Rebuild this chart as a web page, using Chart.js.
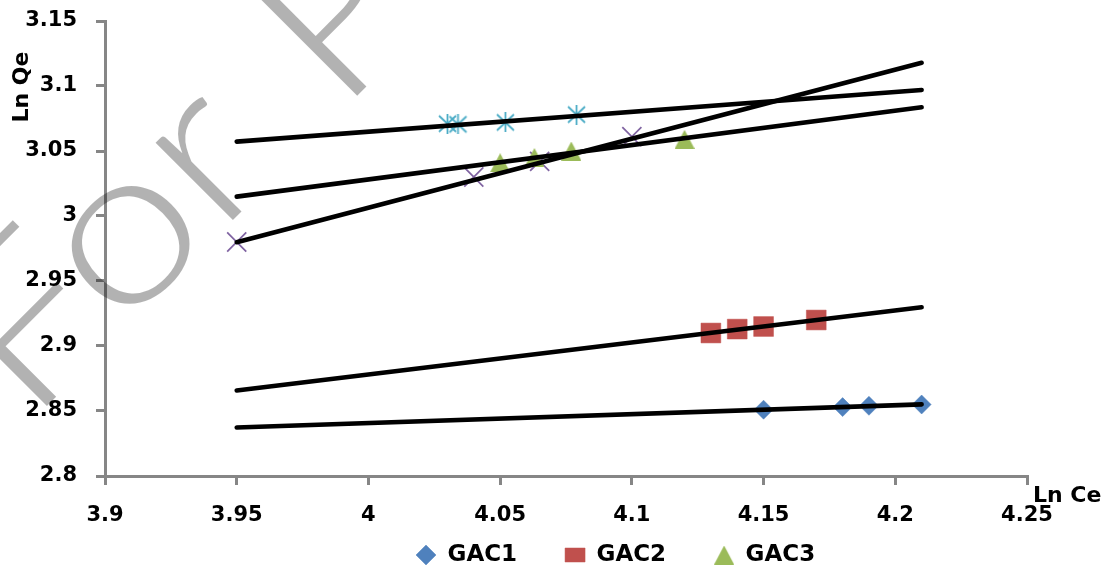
<!DOCTYPE html>
<html>
<head>
<meta charset="utf-8">
<title>Ln Qe vs Ln Ce</title>
<script src="https://cdn.jsdelivr.net/npm/chart.js@4"></script>
<style>
  html, body { margin: 0; padding: 0; background: #ffffff; }
  #wrap { position: relative; width: 1110px; height: 569px; }
</style>
</head>
<body>
<div id="wrap"><canvas id="chart"></canvas></div>
<script>
// Freundlich plots: ln Qe against ln Ce
const gac1Ce = [4.15, 4.18, 4.19, 4.21];
const gac1Qe = [2.851, 2.853, 2.854, 2.855];
const gac2Ce = [4.13, 4.14, 4.15, 4.17];
const gac2Qe = [2.910, 2.913, 2.915, 2.920];
const gac3Ce = [4.05, 4.063, 4.077, 4.12];
const gac3Qe = [3.041, 3.045, 3.050, 3.059];
const set4Ce = [3.95, 4.04, 4.065, 4.10];
const set4Qe = [2.980, 3.030, 3.042, 3.061];
const set5Ce = [4.030, 4.034, 4.052, 4.079];
const set5Qe = [3.071, 3.0705, 3.072, 3.078];

// linear trend lines, drawn between these ln Ce limits
const fitCe = [3.95, 4.21];
const fit1Qe = [2.8373, 2.8551];
const fit2Qe = [2.8658, 2.9298];
const fit3Qe = [3.0149, 3.0836];
const fit4Qe = [2.9798, 3.1179];
const fit5Qe = [3.0572, 3.0969];

const xTickValues = [3.9, 3.95, 4, 4.05, 4.1, 4.15, 4.2, 4.25];
const xTickLabels = ['3.9', '3.95', '4', '4.05', '4.1', '4.15', '4.2', '4.25'];
const yTickValues = [2.8, 2.85, 2.9, 2.95, 3, 3.05, 3.1, 3.15];
const yTickLabels = ['2.8', '2.85', '2.9', '2.95', '3', '3.05', '3.1', '3.15'];

const legendNames = ['GAC1', 'GAC2', 'GAC3'];

const AXIS_GREY = '#868686';
const FONT = '"DejaVu Sans", "Liberation Sans", sans-serif';

const pts = (xs, ys) => xs.map((x, i) => ({ x: x, y: ys[i] }));

// marker bitmaps for shapes Chart.js does not provide
function triangleMarker(color) {
  const c = document.createElement('canvas');
  c.width = 20; c.height = 19;
  const g = c.getContext('2d');
  g.fillStyle = color;
  g.beginPath();
  g.moveTo(10, 0); g.lineTo(20, 19); g.lineTo(0, 19);
  g.closePath();
  g.fill();
  return c;
}
function asteriskMarker(color) {
  const c = document.createElement('canvas');
  c.width = 21; c.height = 20;
  const g = c.getContext('2d');
  g.strokeStyle = color;
  g.lineWidth = 1.8;
  g.beginPath();
  g.moveTo(2, 2); g.lineTo(19, 18);
  g.moveTo(19, 2); g.lineTo(2, 18);
  g.moveTo(10.5, 0); g.lineTo(10.5, 20);
  g.stroke();
  return c;
}

function fitLine(label, ys) {
  return {
    label: label, data: pts(fitCe, ys), showLine: true,
    borderColor: '#000000', backgroundColor: '#000000', borderWidth: 4.6,
    borderCapStyle: 'round', pointRadius: 0, pointHoverRadius: 0, order: 0
  };
}

const datasets = [
  { label: 'GAC1', data: pts(gac1Ce, gac1Qe), pointStyle: 'rectRot', pointRadius: 9.5,
    backgroundColor: '#4F81BD', borderColor: '#4F81BD', borderWidth: 0.5, order: 1 },
  { label: 'GAC2', data: pts(gac2Ce, gac2Qe), pointStyle: 'rect', pointRadius: 14,
    backgroundColor: '#C0504D', borderColor: '#C0504D', borderWidth: 0.5, order: 1 },
  { label: 'GAC3', data: pts(gac3Ce, gac3Qe), pointStyle: triangleMarker('#9BBB59'), pointRadius: 10,
    backgroundColor: '#9BBB59', borderColor: '#9BBB59', borderWidth: 0, order: 1 },
  { label: 'Series4', data: pts(set4Ce, set4Qe), pointStyle: 'crossRot', pointRadius: 13.5,
    backgroundColor: '#8064A2', borderColor: '#8064A2', borderWidth: 1.75, order: 1 },
  { label: 'Series5', data: pts(set5Ce, set5Qe), pointStyle: asteriskMarker('#4BACC6'), pointRadius: 10,
    backgroundColor: '#4BACC6', borderColor: '#4BACC6', borderWidth: 0, order: 1 },
  fitLine('fit1', fit1Qe), fitLine('fit2', fit2Qe), fitLine('fit3', fit3Qe),
  fitLine('fit4', fit4Qe), fitLine('fit5', fit5Qe)
];

// legend row placement
const LEGEND_FIRST_X = 416;   // left edge of the first legend marker
const LEGEND_MID_Y = 555;     // vertical centre of the legend row
const LEGEND_GAP = 48;

const placeLegend = {
  id: 'placeLegend',
  beforeDraw(chart) {
    const lg = chart.legend;
    if (!lg) return;
    lg.left = LEGEND_FIRST_X - LEGEND_GAP;
    lg.right = chart.width + 200;
    lg.top = LEGEND_MID_Y - 11.5 - LEGEND_GAP;
  }
};

// diagonal "For Peer Review" stamp, translucent, laid over the whole chart
function drawWatermark(ctx) {
  const size = 220, stem = 11, sx = 1.15;
  ctx.save();
  ctx.font = '300 ' + size + 'px Lato, "Liberation Sans", sans-serif';
  ctx.fillStyle = 'rgba(0,0,0,0.3)';
  ctx.textAlign = 'left';
  ctx.textBaseline = 'alphabetic';
  ctx.translate(169.5, 283.5);
  ctx.rotate(-Math.PI / 4);
  ctx.scale(sx, 1);
  const atStem = (txt, s) => {
    const m = ctx.measureText(txt[0]);
    ctx.fillText(txt, s / sx + m.actualBoundingBoxLeft - stem / 2, 0);
  };
  const atCentre = (txt, c) => {
    const m = ctx.measureText(txt);
    ctx.fillText(txt, c / sx - (m.actualBoundingBoxRight - m.actualBoundingBoxLeft) / 2, 0);
  };
  atStem('F', -168);
  atCentre('o', 0);
  atStem('r', 96);
  atStem('Peer Review', 270.5);
  ctx.restore();
}

const axisTitles = {
  id: 'axisTitles',
  afterDraw(chart) {
    const ctx = chart.ctx;
    const a = chart.chartArea;
    ctx.save();
    ctx.fillStyle = '#000000';
    ctx.font = 'bold 22px ' + FONT;
    ctx.textBaseline = 'middle';
    ctx.textAlign = 'left';
    ctx.fillText('Ln Ce', a.right + 6, a.bottom + 20);
    ctx.translate(a.left - 83, a.top + 66);
    ctx.rotate(-Math.PI / 2);
    ctx.textAlign = 'center';
    ctx.fillText('Ln Qe', 0, 0);
    ctx.restore();
    drawWatermark(ctx);
  }
};

Chart.defaults.font.family = FONT;

new Chart(document.getElementById('chart'), {
  type: 'scatter',
  data: { datasets: datasets },
  options: {
    responsive: true, maintainAspectRatio: false, animation: false, events: [],
    layout: { padding: { left: 0, right: 83, top: 21, bottom: 0 } },
    plugins: {
      tooltip: { enabled: false },
      title: { display: false },
      legend: {
        display: true, position: 'bottom', align: 'start', maxHeight: 1,
        labels: {
          filter: item => legendNames.includes(item.text),
          usePointStyle: true, pointStyleWidth: 20, boxHeight: 14,
          padding: LEGEND_GAP, color: '#000000',
          font: { size: 23, weight: 'bold', family: FONT }
        }
      }
    },
    scales: {
      x: {
        type: 'linear', min: 3.9, max: 4.25,
        afterBuildTicks: s => { s.ticks = xTickValues.map(v => ({ value: v })); },
        afterFit: s => { s.height = 92; },
        ticks: {
          callback: (v, i) => xTickLabels[i], color: '#000000',
          font: { size: 21, weight: 'bold', family: FONT },
          padding: 18, maxRotation: 0, autoSkip: false
        },
        grid: { display: true, drawOnChartArea: false, drawTicks: true, tickLength: 9,
                color: AXIS_GREY, lineWidth: 3 },
        border: { display: true, color: AXIS_GREY, width: 3 }
      },
      y: {
        type: 'linear', min: 2.8, max: 3.15,
        afterBuildTicks: s => { s.ticks = yTickValues.map(v => ({ value: v })); },
        afterFit: s => { s.width = 105; s.paddingTop = 0; s.paddingBottom = 0; },
        ticks: {
          callback: (v, i) => yTickLabels[i], color: '#000000',
          font: { size: 21, weight: 'bold', family: FONT },
          padding: 19, autoSkip: false
        },
        grid: { display: true, drawOnChartArea: false, drawTicks: true, tickLength: 9,
                color: AXIS_GREY, lineWidth: 3 },
        border: { display: true, color: AXIS_GREY, width: 3 }
      }
    }
  },
  plugins: [placeLegend, axisTitles]
});
</script>
</body>
</html>
